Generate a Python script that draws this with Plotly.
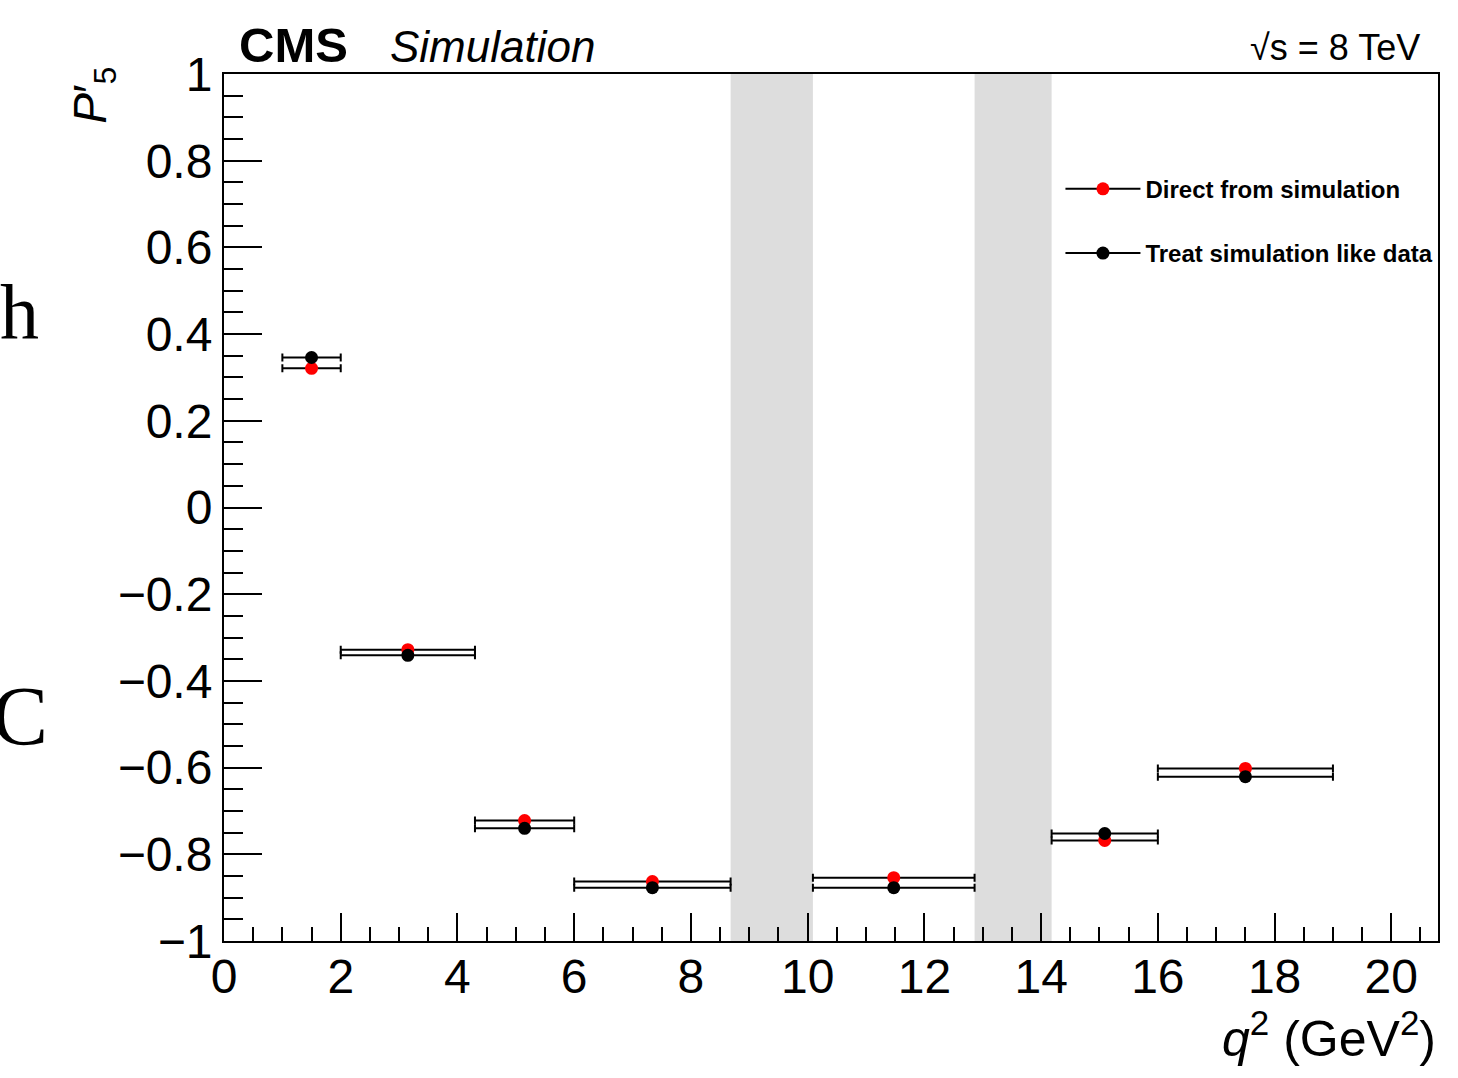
import plotly.graph_objects as go

# ---- data ----
bin_low = [1.0, 2.0, 4.3, 6.0, 10.09, 14.18, 16.0]
bin_high = [2.0, 4.3, 6.0, 8.68, 12.86, 16.0, 19.0]
p5_direct = [0.321, -0.328, -0.722, -0.863, -0.854, -0.768, -0.602]
p5_like_data = [0.346, -0.341, -0.740, -0.877, -0.877, -0.752, -0.621]
veto_low = [8.68, 12.86]
veto_high = [10.09, 14.18]
series_names = ["Direct from simulation", "Treat simulation like data"]
x_ticks = [0, 2, 4, 6, 8, 10, 12, 14, 16, 18, 20]
y_ticks = [-1, -0.8, -0.6, -0.4, -0.2, 0, 0.2, 0.4, 0.6, 0.8, 1]

centers = [(a + b) / 2 for a, b in zip(bin_low, bin_high)]
half = [(b - a) / 2 for a, b in zip(bin_low, bin_high)]

FONT = "Liberation Sans, Arial, Helvetica, sans-serif"
SERIF = "Liberation Serif, Times New Roman, serif"

fig = go.Figure()

for vals, col in [(p5_direct, "#ff0000"), (p5_like_data, "#000000")]:
    fig.add_trace(go.Scatter(
        x=centers, y=vals, mode="markers",
        marker=dict(color=col, size=13, symbol="circle"),
        error_x=dict(type="data", array=half, symmetric=True,
                     color="black", thickness=2, width=4),
        showlegend=False, cliponaxis=False,
    ))

# legend entries
for i, (name, col) in enumerate(zip(series_names, ["#ff0000", "#000000"])):
    fig.add_trace(go.Scatter(
        x=[None], y=[None], mode="lines+markers", name=name,
        line=dict(color="black", width=2),
        marker=dict(color=col, size=13),
        legendgroup=str(i),
    ))

for lo, hi in zip(veto_low, veto_high):
    fig.add_shape(type="rect", xref="x", yref="y", x0=lo, x1=hi, y0=-1, y1=1,
                  fillcolor="#dddddd", line=dict(width=0), layer="below")

axis_common = dict(
    showline=True, linecolor="black", linewidth=2, mirror=True,
    showgrid=False, zeroline=False, ticks="inside", tickcolor="black",
    tickwidth=2, tickfont=dict(family=FONT, size=48, color="black"),
)

fig.update_layout(
    width=1458, height=1078,
    margin=dict(l=224, r=20, t=74, b=137),
    paper_bgcolor="white", plot_bgcolor="rgba(0,0,0,0)",
    xaxis=dict(range=[0, 20.8], tickvals=x_ticks, ticklen=28,
               minor=dict(dtick=0.5, ticklen=14, ticks="inside",
                          tickcolor="black", tickwidth=2),
               ticklabelstandoff=-8, **axis_common),
    yaxis=dict(range=[-1, 1], tickvals=y_ticks, ticklen=38,
               minor=dict(dtick=0.05, ticklen=19, ticks="inside",
                          tickcolor="black", tickwidth=2),
               ticklabelstandoff=0, **axis_common),
    legend=dict(x=0.689, y=0.893, xanchor="left", yanchor="top",
                bgcolor="rgba(0,0,0,0)", traceorder="grouped",
                tracegroupgap=30, itemwidth=75,
                font=dict(family=FONT, size=24, color="black", weight="bold")),
    showlegend=True,
)

annos = [
    dict(text="<b>CMS</b>", x=0.011, y=1.034, xanchor="left", yanchor="middle",
         font=dict(family=FONT, size=49, color="black")),
    dict(text="<i>Simulation</i>", x=0.135, y=1.032, xanchor="left", yanchor="middle",
         font=dict(family=FONT, size=44, color="black")),
    dict(text="√s = 8 TeV", x=0.987, y=1.030, xanchor="right", yanchor="middle",
         font=dict(family=FONT, size=36, color="black")),
    dict(text="<i>q</i><sup>2</sup> (GeV<sup>2</sup>)", x=1.0, y=-0.108,
         xanchor="right", yanchor="middle",
         font=dict(family=FONT, size=50, color="black")),
    dict(text="<i>P</i>′<sub>5</sub>", x=-0.107, y=0.975, xanchor="center",
         yanchor="middle", textangle=-90,
         font=dict(family=FONT, size=46, color="black")),
    dict(text="h", x=-226 / 1214, y=(941 - 312) / 867, xanchor="left", yanchor="middle",
         font=dict(family=SERIF, size=78, color="black")),
    dict(text="C", x=-234 / 1214, y=(941 - 716) / 867, xanchor="left", yanchor="middle",
         font=dict(family=SERIF, size=84, color="black")),
]
for a in annos:
    fig.add_annotation(xref="paper", yref="paper", showarrow=False, **a)

fig.write_html("out.html")
